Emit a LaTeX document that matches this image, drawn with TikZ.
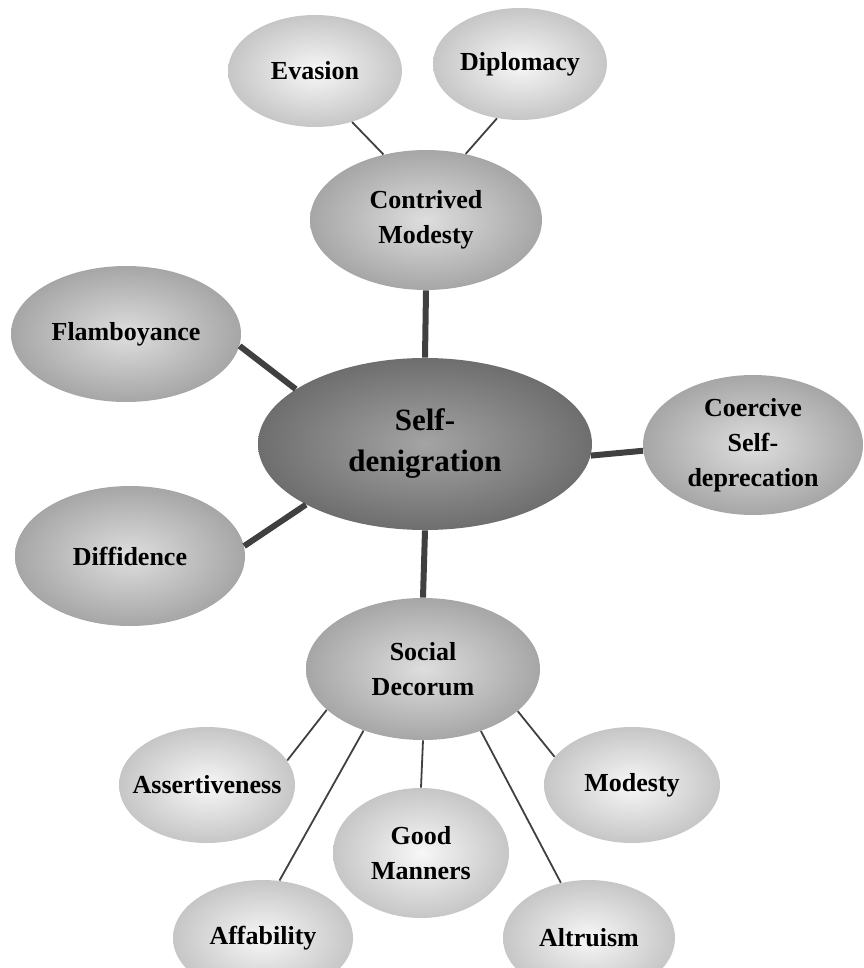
\documentclass[tikz,border=0pt]{standalone}
\usepackage{fontspec}
\setmainfont{Liberation Serif}
\usetikzlibrary{shapes.geometric}
\definecolor{ink}{HTML}{404040}
\definecolor{pale}{HTML}{F7F7F7}
\definecolor{paleedge}{HTML}{C6C6C6}
\definecolor{mid}{HTML}{DEDEDE}
\definecolor{midedge}{HTML}{A6A6A6}
\definecolor{core}{HTML}{A4A4A4}
\definecolor{coreedge}{HTML}{6E6E6E}

\begin{document}
\begin{tikzpicture}[x=0.5pt,y=-0.5pt,
    bubble/.style={ellipse,inner xsep=-8pt,inner ysep=0pt,align=center,
      font=\bfseries\fontsize{13}{17.5}\selectfont},
    leaf/.style={bubble,inner color=pale,outer color=paleedge},
    branch/.style={bubble,inner color=mid,outer color=midedge},
    hub/.style={bubble,inner color=core,outer color=coreedge,
      font=\bfseries\fontsize{15.5}{20.5}\selectfont},
    trunk/.style={ink,line width=3pt},
    twig/.style={ink,line width=0.9pt}]
    \useasboundingbox (0,0) rectangle (863,968);
    \clip (0,0) rectangle (863,968);

    % centre and first ring
    \node[hub,minimum width=167pt,minimum height=86pt] (self) at (425,444) {Self-\\denigration};
    \node[branch,minimum width=116pt,minimum height=70pt] (contr) at (426,220) {Contrived\\Modesty};
    \node[branch,minimum width=115pt,minimum height=68pt] (flamb) at (126,334) {Flamboyance};
    \node[branch,minimum width=115pt,minimum height=70pt] (diffi) at (130,556) {Diffidence};
    \node[branch,minimum width=110pt,minimum height=70pt] (coerc) at (753,445) {Coercive\\Self-\\deprecation};
    \node[branch,minimum width=117pt,minimum height=71pt] (socdec) at (423,669) {Social\\Decorum};

    % outer leaves
    \node[leaf,minimum width=87pt,minimum height=56pt] (evas) at (315,71) {Evasion};
    \node[leaf,minimum width=87pt,minimum height=56pt] (diplo) at (520,64) {Diplomacy};
    \node[leaf,minimum width=88pt,minimum height=58pt] (assert) at (207,785) {Assertiveness};
    \node[leaf,minimum width=88pt,minimum height=65pt] (goodm) at (421,853) {Good\\Manners};
    \node[leaf,minimum width=88pt,minimum height=58pt] (modes) at (632,785) {Modesty};
    \node[leaf,minimum width=90pt,minimum height=58pt] (affab) at (263,938) {Affability};
    \node[leaf,minimum width=86pt,minimum height=58pt] (altru) at (589,938) {Altruism};

    \foreach \a/\b in {self.90/contr.270, self.157/flamb.354, self.207/diffi.5,
                       self.356/coerc.183, self.270/socdec.90}
      \draw[trunk] (\a) -- (\b);
    \foreach \a/\b in {contr.123/evas.306, contr.59/diplo.247,
                       socdec.203/assert.17, socdec.226/affab.74, socdec.270/goodm.90,
                       socdec.313/altru.117, socdec.336/modes.160}
      \draw[twig] (\a) -- (\b);
\end{tikzpicture}
\end{document}
